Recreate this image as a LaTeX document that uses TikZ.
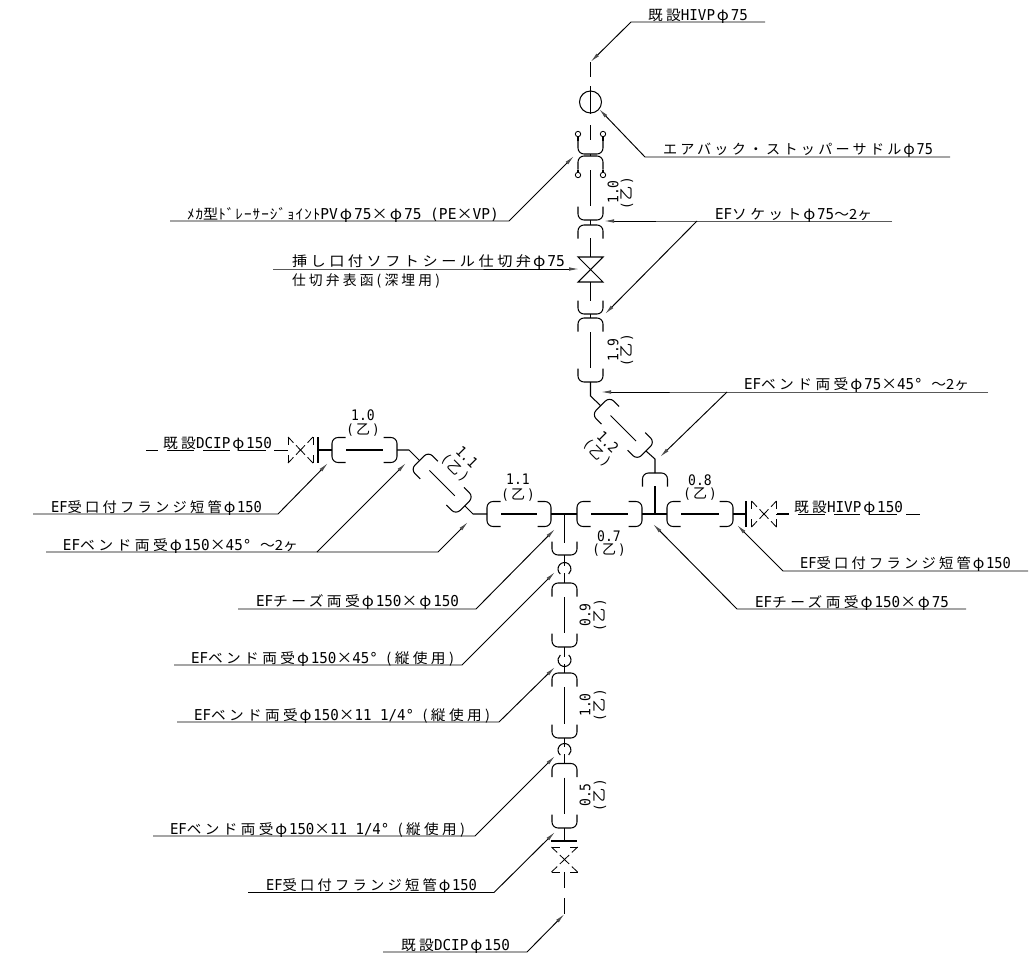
\documentclass[tikz,border=0pt]{standalone}
\usepackage{fontspec}
\usepackage{graphicx}
\usetikzlibrary{arrows.meta}
\newfontfamily\latf{DejaVu Sans Mono}[FakeStretch=0.9]
\newfontfamily\kanaf{Noto Sans CJK JP}[LetterSpace=23]
\newfontfamily\plainf{Noto Sans CJK JP}
\newfontfamily\hanf{Noto Sans CJK JP}[LetterSpace=7]
\newcommand\K[1]{{\fontsize{14}{14}\kanaf #1}}
\newcommand\Kn[1]{{\fontsize{14}{14}\plainf #1}}
\newcommand\Hk[1]{{\fontsize{14}{14}\hanf #1}}
\newcommand\Ph{\makebox[15pt][c]{\fontsize{15}{15}\plainf φ}}
\newcommand\Xx{\makebox[15pt][c]{\fontsize{15}{15}\plainf ×}}
\newcommand\Ot{{\fontsize{14}{14}\latf (\hspace{2pt}\Kn{乙}\hspace{2pt})}}
\tikzset{
  pipe/.style={line width=1.05pt,black,line cap=butt},
  lead/.style={line width=0.95pt,black},
  tip/.style={-{Latex[length=10pt,width=3.6pt,color=black!70]}},
  lab/.style={anchor=base west,inner sep=0pt,outer sep=0pt},
  dim/.style={inner sep=0pt,outer sep=0pt,anchor=center,font=\fontsize{14.5}{14.5}\latf},
}
% x0 x1 baseline text name
\newcommand\lab[5]{\pgfmathsetmacro\wid{#2-#1}%
  \node[lab] (#5) at (#1,#3) {\resizebox{\wid pt}{\height}{\fontsize{15}{15}\latf #4}};}
% id, x-far, y, x-knee, tipx, tipy
\newcommand\ldr[6]{\coordinate (#1a) at (#2,#3);\coordinate (#1b) at (#4,#3);\coordinate (#1c) at (#5,#6);
  \draw[lead,tip] (#1a) -- (#1b) -- (#1c);}
\newcommand\brk[3]{\begin{scope}[shift={(#1,#2)},rotate=#3]
  \draw[pipe,rounded corners=6pt] (-12.5,13.5)--(-12.5,0)--(12.5,0)--(12.5,13.5);\end{scope}}
\newcommand\spool[4]{\begin{scope}[shift={(#1,#2)},rotate=#3]
  \draw[pipe,rounded corners=6pt] (-12.5,13.5)--(-12.5,0)--(12.5,0)--(12.5,13.5);
  \draw[pipe,rounded corners=6pt] (-12.5,#4-13.5)--(-12.5,#4)--(12.5,#4)--(12.5,#4-13.5);
  \draw[pipe] (0,14)--(0,#4-14);\end{scope}}
\newcommand\dvalve[3]{\begin{scope}[shift={(#1,#2)},rotate=#3]
  \foreach \sx in {-1,1}{
    \draw[pipe,line width=0.85pt] (\sx*12.5,-13)--(\sx*12.5,-5);
    \draw[pipe,line width=0.85pt] (\sx*12.5,13)--(\sx*12.5,5);
    \draw[pipe,line width=0.85pt] (\sx*12.5,-13)--(\sx*7,-7.3);
    \draw[pipe,line width=0.85pt] (\sx*12.5,13)--(\sx*7,7.3);
    \draw[pipe,line width=0.85pt] (\sx*4.5,-4.7)--(-\sx*4.5,4.7);
  }\end{scope}}
\newcommand\carc[4]{\draw[pipe] (#1,#2) ++(#3:6.5) arc[start angle=#3,end angle=#4,radius=6.5];}
\begin{document}
\begin{tikzpicture}[x=1pt,y=-1pt]
\useasboundingbox (0,0) rectangle (1034,967);
\fill[white] (0,0) rectangle (1034,967);
% ---- vertical upper line
\draw[pipe] (590.5,62)--(590.5,77) (590.5,86)--(590.5,114) (590.5,125)--(590.5,140);
\node[circle,draw,line width=1.05pt,minimum size=22pt,inner sep=0pt] (saddle) at (590.5,102) {};
\brk{590.5}{154}{180}
\draw[pipe] (578,137)--(578,141) (603,137)--(603,141) (578,170)--(578,172) (603,170)--(603,172);
\foreach \n/\xx/\yy in {a/578/134,b/603/134,c/578/175,d/603/175}
  \node[circle,draw,line width=0.85pt,minimum size=5.4pt,inner sep=0pt] (rg\n) at (\xx,\yy) {};
\draw[pipe] (590.5,154)--(590.5,156);
\spool{590.5}{156}{0}{64}
\draw[pipe] (590.5,220)--(590.5,225);
\brk{590.5}{225}{0}
\draw[pipe] (590.5,238)--(590.5,257);
\draw[pipe] (578,257)--(603,257)--(578,282)--(603,282)--cycle;
\draw[pipe] (590.5,282)--(590.5,301);
\brk{590.5}{314}{180}
\draw[pipe] (590.5,314)--(590.5,318);
\spool{590.5}{318}{0}{64}
\draw[pipe] (590.5,382)--(590.5,396)--(600.7,405.7);
\spool{600.7}{405.7}{45}{64}
\draw[pipe] (646,451)--(655,459)--(655,473);
\brk{655}{473}{0}
\draw[pipe] (655,486)--(655,514);
% ---- main horizontal
\spool{667}{514}{90}{66}
\spool{577}{514}{90}{65}
\spool{487}{514}{90}{64}
\draw[pipe] (551,514)--(577,514) (642,514)--(667,514) (733,514)--(746,514);
\draw[pipe] (746,501)--(746,527);
\dvalve{764}{514}{0}
\draw[pipe] (777,514)--(789,514);
% ---- upper left branch
\spool{332}{450}{90}{65}
\draw[pipe] (318,437)--(318,463) (318,450)--(332,450);
\dvalve{300.5}{450}{0}
\draw[pipe] (397,450)--(409,450)--(419.5,460.5);
\spool{419.5}{460.5}{45}{64}
\draw[pipe] (464.8,505.8)--(473,514)--(487,514);
% ---- lower vertical
\draw[pipe] (564.5,514)--(564.5,543);
\brk{564.5}{555}{180}
\draw[pipe] (564.5,555)--(564.5,566) (564.5,573)--(564.5,583);
\carc{564.5}{569}{130}{410}
\spool{564.5}{583}{0}{64}
\draw[pipe] (564.5,647)--(564.5,657) (564.5,664)--(564.5,673);
\carc{564.5}{660}{-50}{230}
\spool{564.5}{673}{0}{65}
\draw[pipe] (564.5,738)--(564.5,747) (564.5,754)--(564.5,763.5);
\carc{564.5}{750}{130}{410}
\spool{564.5}{763.5}{0}{64.5}
\draw[pipe] (564.5,828)--(564.5,841) (551,841)--(577,841);
\dvalve{564.5}{859.5}{90}
\draw[pipe] (564.5,872)--(564.5,888) (564.5,898)--(564.5,914);
% ---- dashed existing lines
\draw[pipe,line width=0.85pt] (146,450)--(158,450) (167,450)--(194,450) (203,450)--(230,450) (239,450)--(266,450) (274,450)--(288,450);
\draw[pipe,line width=0.85pt] (776,514)--(789,514) (798,514)--(825,514) (834,514)--(860,514) (870,514)--(897,514) (906,514)--(920,514);
% ---- leaders
\ldr{L1}{765}{22}{631}{590.5}{62}
\ldr{L2}{950}{157}{645}{599}{109}
\ldr{L3}{170}{221}{509}{574}{156}
\ldr{L4}{892}{221}{697}{604}{221}
\draw[lead,tip] (L4b) -- (605,314);
\ldr{L5}{273}{269}{400}{579}{269}
\ldr{L6}{988}{392}{727}{601}{392}
\draw[lead,tip] (L6b) -- (660,457);
\ldr{L7}{33}{514}{278}{328}{463}
\ldr{L8}{46}{552}{438}{468}{522}
\coordinate (L8k) at (317,552);
\draw[lead,tip] (L8k) -- (406,463);
\ldr{L9}{238}{609}{476}{555}{529}
\ldr{L10}{174}{665}{462}{555}{572}
\ldr{L11}{177}{722}{499}{555}{667}
\ldr{L12}{153}{836}{475}{555}{756}
\ldr{L13}{248}{892.5}{494}{555}{832}
\ldr{L14}{383}{952}{527}{564.5}{914}
\ldr{L15}{1028}{571}{783}{737}{525}
\ldr{L16}{966}{609}{737}{653}{524}
% ---- labels
\lab{648}{748}{20}{\K{既設}HIVP\Ph 75}{t1}
\lab{663}{933}{154}{\K{エアバック・ストッパーサドル}\Ph 75}{t2}
\lab{187}{499}{219}{\Hk{ﾒｶ}\K{型}\Hk{ﾄﾞﾚｰｻｰｼﾞｮｲﾝﾄ}PV\Ph 75\Xx\Ph 75\hspace{8pt}(PE\Xx VP)}{t3}
\lab{715}{872}{219}{EF\K{ソケット}\Ph 75\Kn{～2ヶ}}{t4}
\lab{292}{565}{266}{\K{挿し口付ソフトシール仕切弁}\Ph 75}{t5}
\lab{292}{440}{285}{\K{仕切弁表函(深埋用)}}{t6}
\lab{744}{969}{389}{EF\K{ベンド両受}\Ph 75\Xx 45° \Kn{～2ヶ}}{t7}
\lab{163}{272}{448}{\K{既設}DCIP\Ph 150}{t8}
\lab{794}{903}{512}{\K{既設}HIVP\Ph 150}{t9}
\lab{51}{262}{512}{EF\K{受口付フランジ短管}\Ph 150}{t10}
\lab{63}{298}{550}{EF\K{ベンド両受}\Ph 150\Xx 45° \Kn{～2ヶ}}{t11}
\lab{256}{459}{606}{EF\K{チーズ両受}\Ph 150\Xx\Ph 150}{t12}
\lab{191}{454}{663}{EF\K{ベンド両受}\Ph 150\Xx 45° \K{(縦使用)}}{t13}
\lab{194}{490}{720}{EF\K{ベンド両受}\Ph 150\Xx 11 1/4° \K{(縦使用)}}{t14}
\lab{170}{465}{834}{EF\K{ベンド両受}\Ph 150\Xx 11 1/4° \K{(縦使用)}}{t15}
\lab{266}{477}{890}{EF\K{受口付フランジ短管}\Ph 150}{t16}
\lab{401}{510}{950}{\K{既設}DCIP\Ph 150}{t17}
\lab{800}{1011}{568}{EF\K{受口付フランジ短管}\Ph 150}{t18}
\lab{755}{949}{607}{EF\K{チーズ両受}\Ph 150\Xx\Ph 75}{t19}
% ---- dimensions
\node[dim] (d1) at (363,415) {1.0};
\node[dim] (z1) at (363,430) {\Ot};
\node[dim] (d2) at (518,479) {1.1};
\node[dim] (z2) at (518,495) {\Ot};
\node[dim] (d3) at (609,536) {0.7};
\node[dim] (z3) at (609,550) {\Ot};
\node[dim] (d4) at (700,480) {0.8};
\node[dim] (z4) at (700,494) {\Ot};
\node[dim,rotate=90] (d5) at (613,192) {1.0};
\node[dim,rotate=90] (z5) at (627,193) {\Ot};
\node[dim,rotate=90] (d6) at (613,350) {1.9};
\node[dim,rotate=90] (z6) at (627,350) {\Ot};
\node[dim,rotate=90] (d7) at (585,615) {0.9};
\node[dim,rotate=90] (z7) at (600,615) {\Ot};
\node[dim,rotate=90] (d8) at (585,705) {1.0};
\node[dim,rotate=90] (z8) at (600,705) {\Ot};
\node[dim,rotate=90] (d9) at (585,795) {0.5};
\node[dim,rotate=90] (z9) at (600,795) {\Ot};
\node[dim,rotate=-45] (d10) at (608,442) {1.2};
\node[dim,rotate=-45] (z10) at (597,453) {\Ot};
\node[dim,rotate=-45] (d11) at (467,457) {1.1};
\node[dim,rotate=-45] (z11) at (455,468) {\Ot};
\end{tikzpicture}
\end{document}
